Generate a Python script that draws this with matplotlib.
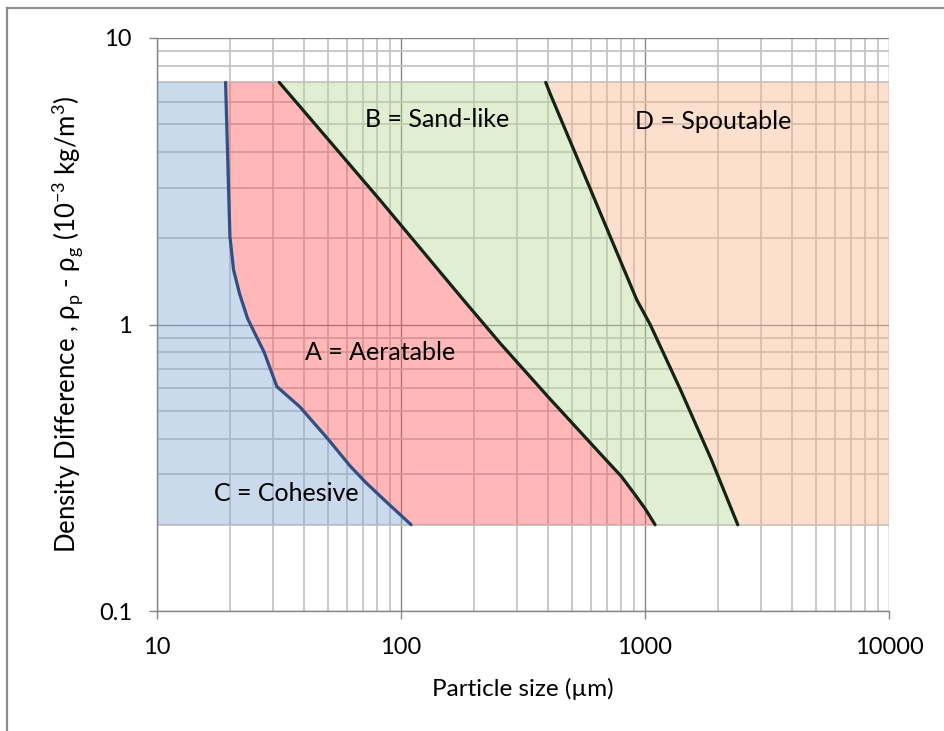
import matplotlib
matplotlib.use("Agg")
import matplotlib.pyplot as plt
from matplotlib.lines import Line2D
from matplotlib.ticker import LogLocator, FixedLocator, NullFormatter

plt.rcParams['font.family'] = ['Lato', 'DejaVu Sans']

# ---- data ----
x_min, x_max = 10, 10000
y_bottom, y_top = 0.2, 7.0

# C/A boundary (cohesive / aeratable)
ca_x = [19.1, 19.5, 19.9, 20.6, 21.8, 23.5, 25.2, 27.5, 29.5, 31.0, 38.5, 50.0, 62.0, 72.0, 85.0, 110.0]
ca_y = [7.0, 3.75, 2.03, 1.55, 1.28, 1.05, 0.93, 0.80, 0.68, 0.607, 0.516, 0.40, 0.32, 0.28, 0.245, 0.20]

# A/B boundary (aeratable / sand-like)
ab_x = [31.7, 50.0, 82.0, 131.5, 180.0, 255.0, 400.0, 654.0, 800.0, 900.0, 1000.0, 1100.0]
ab_y = [7.0, 4.45, 2.72, 1.68, 1.22, 0.86, 0.56, 0.355, 0.295, 0.258, 0.228, 0.20]

# B/D boundary (sand-like / spoutable)
bd_x = [392.0, 408.0, 600.0, 790.0, 925.0, 1050.0, 1400.0, 1875.0, 2400.0]
bd_y = [7.0, 6.41, 2.94, 1.68, 1.22, 1.0, 0.59, 0.336, 0.20]

region_labels = ['C = Cohesive', 'A = Aeratable', 'B = Sand-like', 'D = Spoutable']
label_x = [34.0, 82.0, 141.0, 1900.0]
label_y = [0.258, 0.80, 5.2, 5.1]

x_ticks = [10, 100, 1000, 10000]
x_ticklabels = ['10', '100', '1000', '10000']
y_ticks = [0.1, 1, 10]
y_ticklabels = ['0.1', '1', '10']

# ---- figure ----
W, H = 945, 731
fig = plt.figure(figsize=(W / 100, H / 100), dpi=100)
ax = fig.add_axes([157 / W, 1 - 611 / H, (889 - 157) / W, (611 - 38) / H])
ax.set_xscale('log')
ax.set_yscale('log')
ax.set_xlim(10, 10000)
ax.set_ylim(0.1, 10)

alpha = 0.42
c_blue = (130 / 255, 165 / 255, 212 / 255)
c_red = (255 / 255, 85 / 255, 85 / 255)
c_green = (182 / 255, 217 / 255, 147 / 255)
c_orange = (250 / 255, 180 / 255, 138 / 255)

# polygons built from the boundary arrays
blue_px = [x_min] + ca_x + [x_min]
blue_py = [y_top] + ca_y + [y_bottom]
red_px = ca_x + ab_x[::-1]
red_py = ca_y + ab_y[::-1]
green_px = ab_x + bd_x[::-1]
green_py = ab_y + bd_y[::-1]
orange_px = bd_x + [x_max, x_max]
orange_py = bd_y + [y_bottom, y_top]

for px, py, col in [(blue_px, blue_py, c_blue), (red_px, red_py, c_red),
                    (green_px, green_py, c_green), (orange_px, orange_py, c_orange)]:
    ax.fill(px, py, color=col, alpha=alpha, lw=0, zorder=2)

ax.plot(ca_x, ca_y, color='#2f4f86', lw=2.3, zorder=4, solid_capstyle='round',
        solid_joinstyle='round')
ax.plot(ab_x, ab_y, color='#142314', lw=2.3, zorder=4, solid_capstyle='round',
        solid_joinstyle='round')
ax.plot(bd_x, bd_y, color='#142314', lw=2.3, zorder=4, solid_capstyle='round',
        solid_joinstyle='round')

for t, lx, ly in zip(region_labels, label_x, label_y):
    ax.text(lx, ly, t, ha='center', va='center', fontsize=18, color='black', zorder=5)

# grid
ax.set_axisbelow(True)
ax.xaxis.set_major_locator(FixedLocator(x_ticks))
ax.yaxis.set_major_locator(FixedLocator(y_ticks))
ax.xaxis.set_minor_locator(LogLocator(base=10, subs=range(2, 10)))
ax.yaxis.set_minor_locator(LogLocator(base=10, subs=range(2, 10)))
ax.xaxis.set_minor_formatter(NullFormatter())
ax.yaxis.set_minor_formatter(NullFormatter())
ax.set_xticklabels(x_ticklabels)
ax.set_yticklabels(y_ticklabels)
ax.grid(True, which='major', color='#868686', lw=1.0)
ax.grid(True, which='minor', color='#c4c4c4', lw=1.3)

for s in ['top', 'right']:
    ax.spines[s].set_visible(False)
for s in ['left', 'bottom']:
    ax.spines[s].set_color('#868686')
    ax.spines[s].set_linewidth(1.0)

ax.tick_params(which='major', direction='out', length=6, width=1.0, color='#868686',
               labelsize=17, labelcolor='black')
ax.tick_params(axis='y', which='major', pad=12)
ax.tick_params(axis='x', which='major', pad=13)
ax.tick_params(which='minor', length=0)

ax.set_xlabel('Particle size (µm)', fontsize=17.5, labelpad=14)
ax.set_ylabel('Density Difference , ρ$_\\mathregular{p}$ - ρ$_\\mathregular{g}$ '
              '(10$^\\mathregular{-3}$ kg/m$^\\mathregular{3}$)', fontsize=18.5, labelpad=10)

# chart-area border
fig.add_artist(Line2D([7 / W, 1.0], [1 - 8 / H, 1 - 8 / H], color='#8c8c8c', lw=1.6))
fig.add_artist(Line2D([7 / W, 7 / W], [0.0, 1 - 8 / H], color='#8c8c8c', lw=1.6))

fig.savefig('out.png', dpi=100)
